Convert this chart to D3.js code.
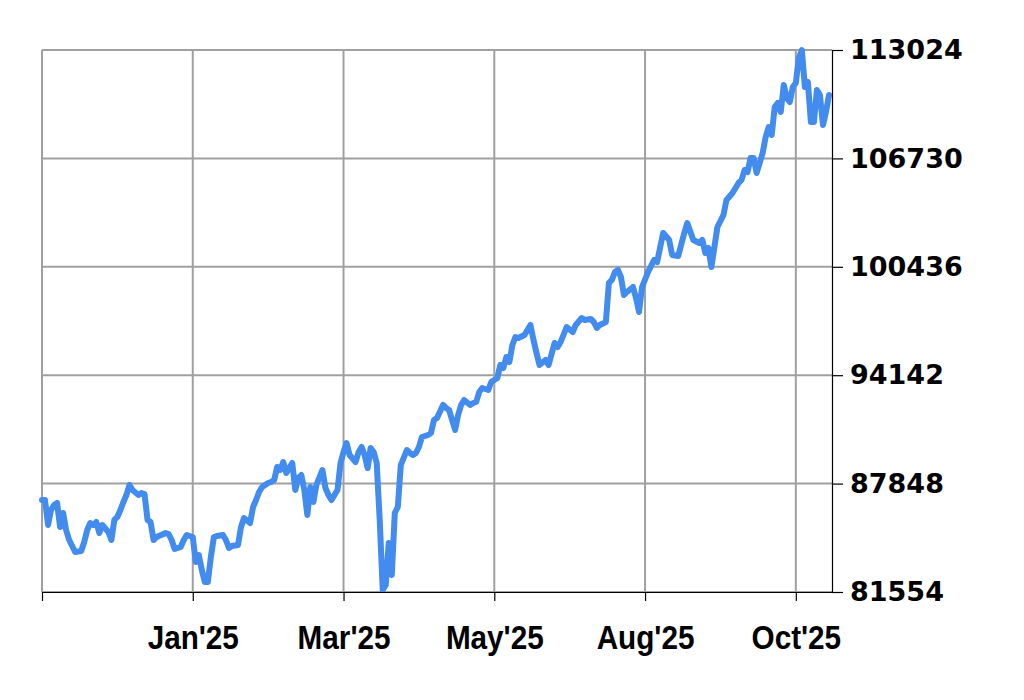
<!DOCTYPE html>
<html><head><meta charset="utf-8">
<script src="https://cdn.jsdelivr.net/npm/d3@7/dist/d3.min.js"></script>
<style>html,body{margin:0;padding:0;background:#fff;}svg{display:block;}</style>
</head><body>
<svg id="chart" width="1024" height="700"></svg>
<script>
// trading-day index of each observation
const days = [0,1,2,3,4,5,6,7,8,9,11,13,14,15,16,17,18,19,20,22,23,24,25,26,27,28,29,30,32,33,34,35,36,37,38,41,42,43,44,46,47,48,50,51,52,53,54,55,56,57,58,60,61,62,63,65,66,67,69,70,71,72,73,75,76,77,78,79,80,81,82,83,84,85,86,87,88,89,90,91,93,94,95,96,98,99,100,101,102,104,105,106,107,108,109,110,111,112,113,114,115,116,117,118,119,121,122,123,124,125,126,128,129,130,131,133,134,135,136,137,138,139,140,142,143,144,145,146,148,149,151,152,153,154,155,156,157,158,160,161,162,163,164,165,167,168,170,171,172,174,176,177,179,180,182,183,184,185,187,188,189,190,191,192,193,194,196,197,198,199,201,203,204,206,208,209,211,213,214,216,218,219,220,221,222,224,226,227,229,231,232,233,234,235,236,237,239,240,241,242,243,244,245,246,247,248,249,250,251,252,253,254,255,256,257,258,259,260,261];
// closing values
const values = [86896,86896,85444,86315,86606,86722,85328,86141,85154,84573,83877,83935,84457,85154,85560,85444,85618,84980,85444,85038,84573,85735,85909,86315,86780,87186,87767,87476,87186,87302,87244,85735,85618,84573,84748,84980,84922,84573,84051,84167,84573,84864,84748,83296,83702,82831,82135,82135,83586,84748,84806,84864,84573,84109,84225,84283,85328,85851,85560,86489,86896,87360,87651,87883,87941,88057,88812,88638,89102,88464,88754,89044,87476,88173,88347,87476,86025,87651,86780,87767,88638,87593,87186,86896,87476,89044,89683,90205,89509,89102,89683,89973,89509,88754,89915,89683,89044,85735,81670,81960,84399,82541,86141,86489,88928,89799,89625,89509,89625,89973,90554,90670,90786,91541,91657,92412,92238,92122,91541,90960,91831,92412,92702,92412,92528,92586,93167,93399,93283,93747,93980,94734,94560,95199,94909,95896,96360,96302,96476,96767,97057,96186,95431,94734,95025,94734,96012,95779,96070,96941,96650,97057,97463,97347,97405,97231,96883,97057,97231,99496,99670,100134,100250,99844,98799,98973,99263,98625,97812,99263,100134,100831,100715,102399,101992,101121,101063,102399,102979,101992,101818,101992,101237,101528,100425,102747,103444,104315,104721,105302,105476,106057,105941,106753,106753,105882,107044,107973,108553,108089,109715,109947,109424,110992,110237,110005,110876,111108,112560,113024,110876,111166,108844,108844,110702,110411,108669,109424,110411];
// x tick positions (trading-day index) and labels
const xTickDays = [0,50,100,150,200,250];
const xTickLabels = ["","Jan'25","Mar'25","May'25","Aug'25","Oct'25"];
// y ticks
const yTicks = [81554,87848,94142,100436,106730,113024];

(function(){
const svg = d3.select("#chart");
const L = 42, R = 832, T = 50, B = 592;
const x = d3.scaleLinear().domain([0, 262]).range([L, R]);
const y = d3.scaleLinear().domain([81554, 113024]).range([B, T]);

const data = days.map((d,i)=>({d, v: values[i]}));

const g = svg.append("g");
g.selectAll("line.vg").data(xTickDays).join("line")
  .attr("x1", d=>x(d)).attr("x2", d=>x(d)).attr("y1", T).attr("y2", B)
  .attr("stroke", "#a0a0a0").attr("stroke-width", 2);
g.selectAll("line.hg").data(yTicks).join("line")
  .attr("x1", L).attr("x2", R).attr("y1", d=>y(d)).attr("y2", d=>y(d))
  .attr("stroke", "#a0a0a0").attr("stroke-width", 2);

svg.append("path").datum(data)
  .attr("fill","none").attr("stroke","#428bef").attr("stroke-width",6)
  .attr("stroke-linejoin","round").attr("stroke-linecap","round")
  .attr("d", d3.line().x(p=>x(p.d)).y(p=>y(p.v)));

const xAxis = d3.axisBottom(x).tickValues(xTickDays).tickFormat((d,i)=>xTickLabels[i]).tickSize(9).tickSizeOuter(0);
const gx = svg.append("g").attr("transform", `translate(0,${B})`).call(xAxis);
gx.select(".domain").attr("stroke","#000").attr("stroke-width",1.2);
gx.selectAll(".tick line").attr("stroke","#000").attr("stroke-width",1.2);
gx.selectAll("text").attr("fill","#000")
  .style("font-family","'Liberation Sans Narrow','Liberation Sans',sans-serif")
  .style("font-weight","bold").style("font-size","33px")
  .attr("y", 0).attr("dy", "57px")
  .attr("transform", "scale(0.9,1)");

const yAxis = d3.axisRight(y).tickValues(yTicks).tickFormat(d=>String(d)).tickSize(11).tickSizeOuter(0).tickPadding(7);
const gy = svg.append("g").attr("transform", `translate(${R},0)`).call(yAxis);
gy.select(".domain").attr("stroke","#000").attr("stroke-width",1.2);
gy.selectAll(".tick line").attr("stroke","#000").attr("stroke-width",1.2);
gy.selectAll("text").attr("fill","#000")
  .style("font-family","'DejaVu Sans',sans-serif")
  .style("font-weight","bold").style("font-size","27px");
})();
</script>
</body></html>
